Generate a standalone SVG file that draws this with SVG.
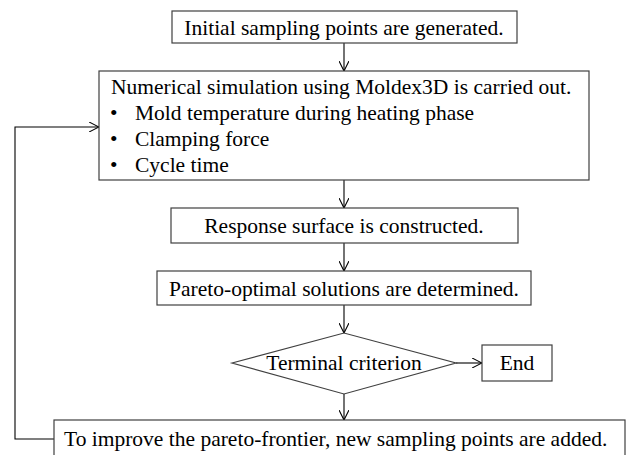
<svg xmlns="http://www.w3.org/2000/svg" width="635" height="455" viewBox="0 0 635 455">
  <style>
    .box { fill: #ffffff; stroke: #404040; stroke-width: 1.2; }
    .txt { font-family: "Liberation Serif", "Times New Roman", serif; font-size: 21.5px; fill: #000000; }
    .mid { text-anchor: middle; }
    .conn { fill: none; stroke: #000000; stroke-width: 1.1; }
  </style>
  <defs>
    <marker id="arrow" viewBox="0 0 10 10" refX="10" refY="5" markerWidth="10" markerHeight="10" markerUnits="userSpaceOnUse" orient="auto">
      <path d="M0,0 L10,5 L0,10" fill="none" stroke="#000000" stroke-width="1.1"/>
    </marker>
  </defs>
  <rect width="635" height="455" fill="#ffffff"/>

  <g id="connectors">
    <line class="conn" x1="344" y1="43" x2="344" y2="71" marker-end="url(#arrow)"/>
    <line class="conn" x1="344" y1="180" x2="344" y2="208" marker-end="url(#arrow)"/>
    <line class="conn" x1="344" y1="243" x2="344" y2="271" marker-end="url(#arrow)"/>
    <line class="conn" x1="344" y1="305" x2="344" y2="333" marker-end="url(#arrow)"/>
    <line class="conn" x1="456" y1="363" x2="482" y2="363" marker-end="url(#arrow)"/>
    <line class="conn" x1="344" y1="394" x2="344" y2="420" marker-end="url(#arrow)"/>
    <polyline class="conn" points="54,439 15,439 15,127 99,127" marker-end="url(#arrow)"/>
  </g>

  <g id="init">
    <rect class="box" x="172" y="11" width="345" height="32"/>
    <text class="txt mid" x="344" y="35">Initial sampling points are generated.</text>
  </g>

  <g id="simulation">
    <rect class="box" x="99" y="71" width="490" height="109"/>
    <text class="txt" x="111" y="94">Numerical simulation using Moldex3D is carried out.</text>
    <text class="txt" x="110" y="120">•</text>
    <text class="txt" x="135" y="120">Mold temperature during heating phase</text>
    <text class="txt" x="110" y="146">•</text>
    <text class="txt" x="135" y="146">Clamping force</text>
    <text class="txt" x="110" y="172">•</text>
    <text class="txt" x="135" y="172">Cycle time</text>
  </g>

  <g id="response">
    <rect class="box" x="171" y="208" width="347" height="35"/>
    <text class="txt mid" x="344" y="233">Response surface is constructed.</text>
  </g>

  <g id="pareto">
    <rect class="box" x="157" y="271" width="374" height="34"/>
    <text class="txt mid" x="344" y="296">Pareto-optimal solutions are determined.</text>
  </g>

  <g id="criterion">
    <polygon class="box" points="232,363 344,333 456,363 344,394"/>
    <text class="txt mid" x="344" y="370">Terminal criterion</text>
  </g>

  <g id="end">
    <rect class="box" x="482" y="345" width="70" height="36"/>
    <text class="txt mid" x="517" y="370">End</text>
  </g>

  <g id="improve">
    <rect class="box" x="54" y="420" width="571" height="40"/>
    <text class="txt" x="64" y="446">To improve the pareto-frontier, new sampling points are added.</text>
  </g>
</svg>
